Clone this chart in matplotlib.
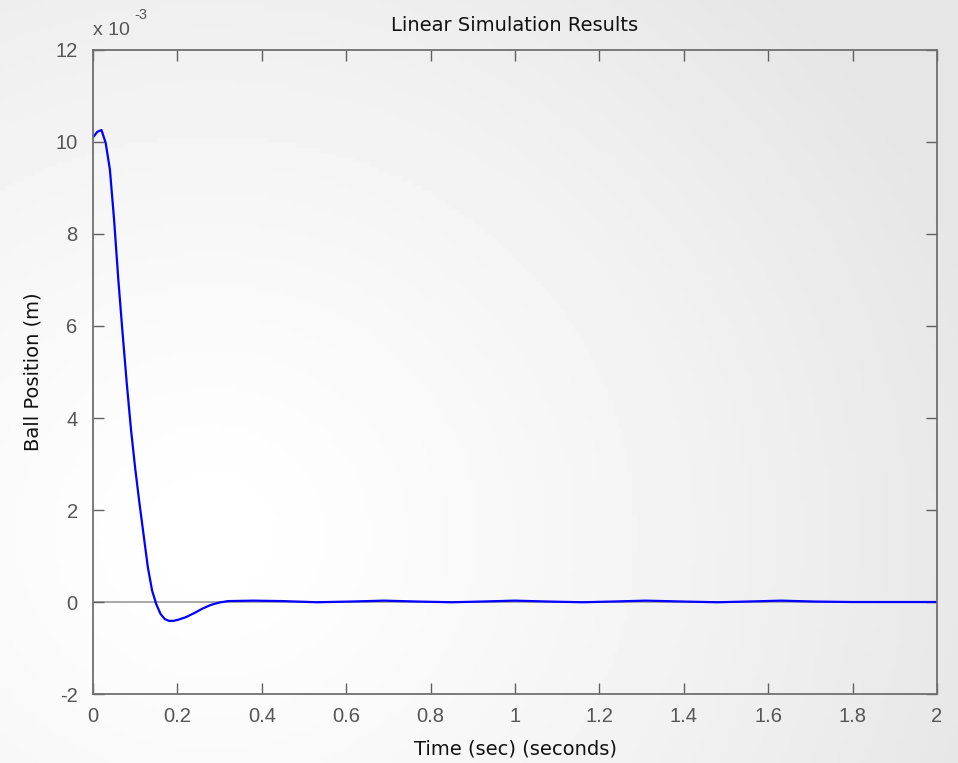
import matplotlib.pyplot as plt
import numpy as np

# response, y in units of 1e-3 m
time_s = [0.0, 0.01, 0.02, 0.03, 0.04, 0.05, 0.06, 0.07, 0.08, 0.09,
          0.10, 0.11, 0.12, 0.13, 0.14, 0.15, 0.16, 0.17, 0.18, 0.19,
          0.20, 0.22, 0.24, 0.26, 0.28, 0.30, 0.32, 0.38, 0.45, 0.53,
          0.61, 0.69, 0.77, 0.85, 0.92, 1.00, 1.08, 1.16, 1.23, 1.31,
          1.40, 1.48, 1.55, 1.63, 1.71, 1.80, 1.90, 2.0]
ball_pos = [10.10, 10.22, 10.26, 9.98, 9.40, 8.30, 7.00, 5.85, 4.75, 3.75,
            2.90, 2.15, 1.45, 0.75, 0.25, -0.05, -0.26, -0.37, -0.41, -0.41,
            -0.39, -0.33, -0.24, -0.14, -0.06, -0.01, 0.02, 0.03, 0.02, -0.005,
            0.01, 0.03, 0.01, -0.005, 0.01, 0.03, 0.01, -0.005, 0.01, 0.03,
            0.01, -0.005, 0.01, 0.03, 0.01, 0.0, 0.0, 0.0]

x_ticks = [0, 0.2, 0.4, 0.6, 0.8, 1, 1.2, 1.4, 1.6, 1.8, 2]
y_ticks = [-2, 0, 2, 4, 6, 8, 10, 12]

plt.rcParams['font.family'] = ['Liberation Sans', 'DejaVu Sans']
plt.rcParams['axes.unicode_minus'] = False

fig = plt.figure(figsize=(9.58, 7.63), dpi=100)

# soft grey background like the matlab window
bg = fig.add_axes([0, 0, 1, 1], zorder=-10)
gx, gy = np.meshgrid(np.linspace(0, 1, 200), np.linspace(0, 1, 160))
dist = np.hypot((gx - 0.22) * 1.0, (gy - 0.3) * 0.85)
shade = 1.0 - 0.1 * np.clip(dist / 0.85, 0, 1) ** 1.3
bg.imshow(shade, cmap='gray', vmin=0, vmax=1, aspect='auto',
          extent=[0, 1, 0, 1], origin='lower')
bg.axis('off')

ax = fig.add_axes([0.0971, 0.0904, 0.881, 0.8441])
ax.patch.set_alpha(0)

ax.axhline(0, color='#999999', lw=1.2, zorder=1)
ax.plot(time_s, ball_pos, color='#0000ff', lw=1.6, zorder=2)

ax.set_xlim(0, 2)
ax.set_ylim(-2, 12)
ax.set_xticks(x_ticks)
ax.set_xticklabels([f"{v:g}" for v in x_ticks])
ax.set_yticks(y_ticks)
ax.tick_params(direction='in', length=8, width=1, color='#606060',
               labelcolor='#555555', labelsize=14.5, top=True, right=True)
ax.tick_params(axis='y', pad=11)
ax.tick_params(axis='x', pad=9)
for s in ax.spines.values():
    s.set_color('#707070')
    s.set_linewidth(1.3)

lab_font = dict(family=['DejaVu Sans'], fontsize=14, color='#111111')
ax.set_title("Linear Simulation Results", pad=14, **lab_font)
ax.set_xlabel("Time (sec) (seconds)", labelpad=10, **lab_font)
ax.set_ylabel("Ball Position (m)", labelpad=9, **lab_font)

# exponent label above the y axis
ax.annotate("x 10", xy=(0, 1), xycoords='axes fraction', xytext=(0, 8),
            textcoords='offset points', fontsize=14, color='#555555',
            ha='left', va='bottom')
ax.annotate("-3", xy=(0, 1), xycoords='axes fraction', xytext=(30, 20),
            textcoords='offset points', fontsize=10.5, color='#555555',
            ha='left', va='bottom')

fig.savefig("out.png", dpi=100)
